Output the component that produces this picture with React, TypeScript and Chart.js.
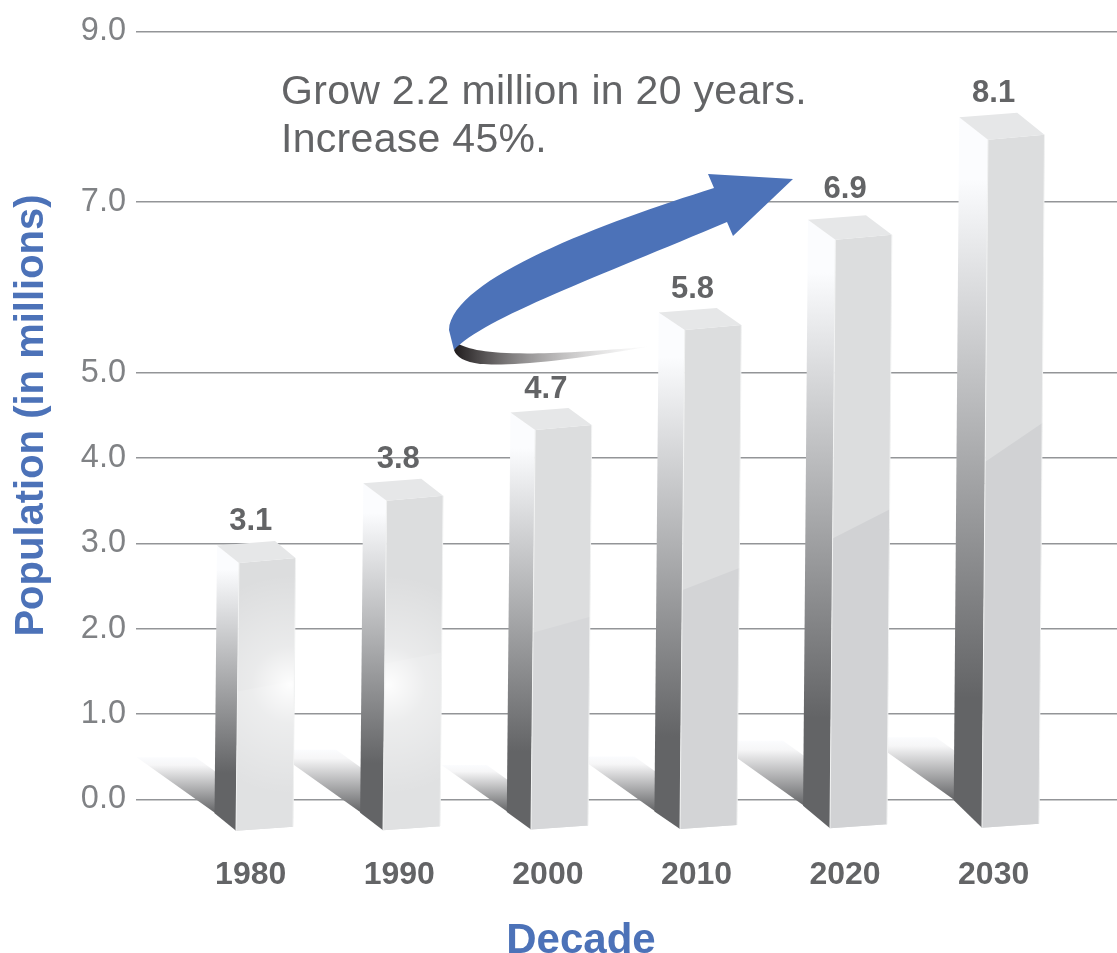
import React, { useEffect, useRef } from "react";
import { Chart, registerables } from "chart.js";

Chart.register(...registerables);

const decades = [1980, 1990, 2000, 2010, 2020, 2030];
const population = [3.1, 3.8, 4.7, 5.8, 6.9, 8.1];
const yTickValues = [0, 1, 2, 3, 4, 5, 7, 9];
const annotationLines = ["Grow 2.2 million in 20 years.", "Increase 45%."];
const xAxisTitle = "Decade";

const FONT = '"Liberation Sans", Arial, sans-serif';
const GREY = "#636466";
const LIGHT_GREY = "#808285";
const BLUE = "#4c72b8";

// small per-bar drawing adjustments (offsets from the scale position)
const barNudgeX = [-14.7, -16.3, -16.9, -16.5, -15.1, -11.7];
const topNudgeY = [10.5, 8, 14, 8, 9, 9];
const labelNudgeX = [0, -1, -2, -4, 0, 0];
const labelNudgeY = [-13.5, -16, -9, -15, -21, -15];
const breakFraction = [0.526, 0.512, 0.489, 0.48, 0.489, 0.525];
const breakRise = [12, 13, 18, 25, 33, 44];
const lowerFace = ["#e0e1e2", "#e0e1e2", "#d6d7d9", "#d3d4d6", "#d1d2d4", "#d1d2d4"];
const glowAt = [0.95, 0.08, -1, -1, -1, -1];
const shadowRise = [56, 63, 47, 55, 65, 63];
const shadowInset = [19, 24, 20, 20, 20, 18];

const poly = (ctx: CanvasRenderingContext2D, pts: number[][]) => {
  ctx.beginPath();
  pts.forEach((p, i) => (i ? ctx.lineTo(p[0], p[1]) : ctx.moveTo(p[0], p[1])));
  ctx.closePath();
};

const geometry = (el: any, i: number) => {
  const fbx = el.x + barNudgeX[i];
  const fby = el.base + 32 - i * 0.6;
  const side = 21.5 + i * 1.35;
  const baseDepth = 17.5 + (i > 3 ? (i - 3) * 5 : 0);
  return { fbx, fby, lbx: fbx - side, lby: fby - baseDepth, side };
};

const bars3d = {
  id: "bars3d",
  afterDatasetsDraw(chart: any) {
    const ctx: CanvasRenderingContext2D = chart.ctx;
    const meta = chart.getDatasetMeta(0);
    ctx.save();

    // floor shadows sit behind every bar
    meta.data.forEach((el: any, i: number) => {
      const { lbx, lby } = geometry(el, i);
      const sTop = lby - shadowRise[i];
      const sg = ctx.createLinearGradient(0, sTop, 0, lby);
      sg.addColorStop(0, "#fbfcfe");
      sg.addColorStop(0.14, "#f6f6f7");
      sg.addColorStop(1, GREY);
      ctx.fillStyle = sg;
      poly(ctx, [
        [lbx - shadowRise[i] / 0.72, sTop],
        [lbx - shadowInset[i], sTop],
        [lbx + 1, sTop + shadowInset[i] * 0.75],
        [lbx + 1, lby],
      ]);
      ctx.fill();
    });

    meta.data.forEach((el: any, i: number) => {
      const base = el.base;
      const val = el.y;
      const height = base - val;
      const { fbx, fby, lbx, lby, side } = geometry(el, i);
      const w = 57;
      const lean = 3 + i * 0.6;
      const topDepth = 17 + (i > 3 ? (i - 3) * 2.5 : 0);
      const yL = val + topNudgeY[i];
      const ftx = fbx + lean;
      const fty = yL + topDepth + 0.5;
      const rtx = ftx + w - 0.5;
      const rty = fty - 5;
      const rbx = fbx + w;
      const rby = fby - 4;
      const ltx = ftx - side - 0.5;
      const lty = yL;

      // left face
      const lg = ctx.createLinearGradient(0, lty, 0, lby);
      lg.addColorStop(0, "#fbfcfe");
      lg.addColorStop(0.09, "#fbfcfe");
      lg.addColorStop(0.85, GREY);
      lg.addColorStop(1, GREY);
      ctx.fillStyle = lg;
      poly(ctx, [
        [ltx, lty],
        [ftx, fty],
        [fbx, fby],
        [lbx, lby],
      ]);
      ctx.fill();

      // front face, upper and lower tones
      ctx.save();
      poly(ctx, [
        [ftx, fty],
        [rtx, rty],
        [rbx, rby],
        [fbx, fby],
      ]);
      ctx.clip();
      ctx.fillStyle = "#dcddde";
      ctx.fillRect(fbx - 2, rty - 2, w + lean + 6, fby - rty + 4);
      const bl = fby - height * breakFraction[i];
      ctx.fillStyle = lowerFace[i];
      poly(ctx, [
        [fbx - 2, bl],
        [rbx + 6, bl - breakRise[i]],
        [rbx + 6, fby + 2],
        [fbx - 2, fby + 2],
      ]);
      ctx.fill();
      if (glowAt[i] >= 0) {
        const gx = fbx + w * glowAt[i];
        const gy = base - 114;
        const rg = ctx.createRadialGradient(gx, gy, 0, gx, gy, 110);
        rg.addColorStop(0, "rgba(255,255,255,0.95)");
        rg.addColorStop(0.35, "rgba(255,255,255,0.4)");
        rg.addColorStop(1, "rgba(255,255,255,0)");
        ctx.fillStyle = rg;
        ctx.fillRect(fbx - 2, rty - 2, w + lean + 6, fby - rty + 4);
      }
      ctx.restore();

      // light edges
      ctx.strokeStyle = "#f1f2f2";
      ctx.lineWidth = 1;
      ctx.beginPath();
      ctx.moveTo(ftx, fty);
      ctx.lineTo(fbx, fby);
      ctx.moveTo(rtx, rty);
      ctx.lineTo(rbx, rby);
      ctx.stroke();

      // top face
      ctx.fillStyle = "#e6e7e8";
      poly(ctx, [
        [ltx, lty],
        [ltx + 58, lty - 4.5],
        [rtx, rty],
        [ftx, fty],
      ]);
      ctx.fill();

      // value label
      ctx.fillStyle = GREY;
      ctx.font = `bold 31px ${FONT}`;
      ctx.textAlign = "center";
      ctx.textBaseline = "middle";
      ctx.fillText(population[i].toFixed(1), el.x + labelNudgeX[i], val + labelNudgeY[i]);
    });
    ctx.restore();
  },
};

const callout = {
  id: "callout",
  afterDraw(chart: any) {
    const ctx: any = chart.ctx;
    ctx.save();

    ctx.fillStyle = GREY;
    ctx.font = `41px ${FONT}`;
    ctx.letterSpacing = "0.3px";
    ctx.textAlign = "left";
    ctx.textBaseline = "alphabetic";
    ctx.fillText(annotationLines[0], 281, 104);
    ctx.fillText(annotationLines[1], 281, 152);
    ctx.letterSpacing = "0px";

    // x axis title sits left of the plot centre
    ctx.fillStyle = BLUE;
    ctx.font = `bold 42px ${FONT}`;
    ctx.textAlign = "center";
    ctx.textBaseline = "middle";
    ctx.fillText(xAxisTitle, 581, 941);

    // dark underside of the swoosh
    const dg = ctx.createLinearGradient(456, 0, 652, 0);
    dg.addColorStop(0, "#231f20");
    dg.addColorStop(1, "rgba(255,255,255,0.3)");
    ctx.fillStyle = dg;
    ctx.beginPath();
    ctx.moveTo(457, 343);
    ctx.bezierCurveTo(475, 354, 520, 358, 650, 346.5);
    ctx.bezierCurveTo(560, 362, 510, 366, 480, 364);
    ctx.bezierCurveTo(465, 362, 456, 357, 454, 350);
    ctx.closePath();
    ctx.fill();

    // blue swoosh arrow
    ctx.fillStyle = BLUE;
    ctx.beginPath();
    ctx.moveTo(793, 179);
    ctx.lineTo(708, 174);
    ctx.lineTo(714, 188);
    ctx.bezierCurveTo(606, 222, 452, 278, 449, 330);
    ctx.lineTo(454, 350);
    ctx.bezierCurveTo(484, 318, 600, 276, 727, 222);
    ctx.lineTo(733, 236);
    ctx.closePath();
    ctx.fill();

    ctx.restore();
  },
};

export default function App() {
  const ref = useRef<HTMLCanvasElement>(null);

  useEffect(() => {
    if (!ref.current) return;
    const chart = new Chart(ref.current, {
      type: "bar",
      data: {
        datasets: [
          {
            label: "Population (in millions)",
            data: decades.map((d, i) => ({ x: d, y: population[i] })),
            backgroundColor: "rgba(0,0,0,0)",
            borderWidth: 0,
            barThickness: 57,
          },
        ],
      },
      options: {
        responsive: false,
        animation: false,
        events: [],
        layout: { padding: { top: 31.5, left: 0, right: 0, bottom: 0 } },
        plugins: { legend: { display: false }, tooltip: { enabled: false }, title: { display: false } },
        scales: {
          x: {
            type: "linear",
            offset: false,
            min: 1972.28,
            max: 2038.3,
            afterBuildTicks: (axis: any) => {
              axis.ticks = decades.map((v) => ({ value: v }));
            },
            afterFit: (axis: any) => {
              axis.height = 153.5;
            },
            grid: { display: false, drawTicks: false },
            border: { display: false },
            ticks: {
              padding: 56,
              maxRotation: 0,
              autoSkip: false,
              color: GREY,
              font: { family: FONT, size: 32, weight: "bold" },
              callback: (v: any) => String(v),
            },
          },
          y: {
            type: "linear",
            min: 0,
            max: 9,
            afterBuildTicks: (axis: any) => {
              axis.ticks = yTickValues.map((v) => ({ value: v }));
            },
            afterFit: (axis: any) => {
              axis.width = 136;
            },
            grid: { color: "#939598", lineWidth: 1.5, drawTicks: false },
            border: { display: false },
            ticks: {
              padding: 10,
              color: LIGHT_GREY,
              font: { family: FONT, size: 32.5 },
              callback: (v: any) => Number(v).toFixed(1),
            },
            title: {
              display: true,
              text: "Population (in millions)",
              color: BLUE,
              font: { family: FONT, size: 40, weight: "bold" },
              padding: { top: 8, bottom: 0 },
            },
          },
        },
      },
      plugins: [bars3d, callout],
    } as any);
    return () => chart.destroy();
  }, []);

  return (
    <div style={{ position: "absolute", left: 0, top: 0, width: 1117, height: 953, background: "#fff" }}>
      <canvas ref={ref} width={1117} height={953} style={{ display: "block" }} />
    </div>
  );
}
